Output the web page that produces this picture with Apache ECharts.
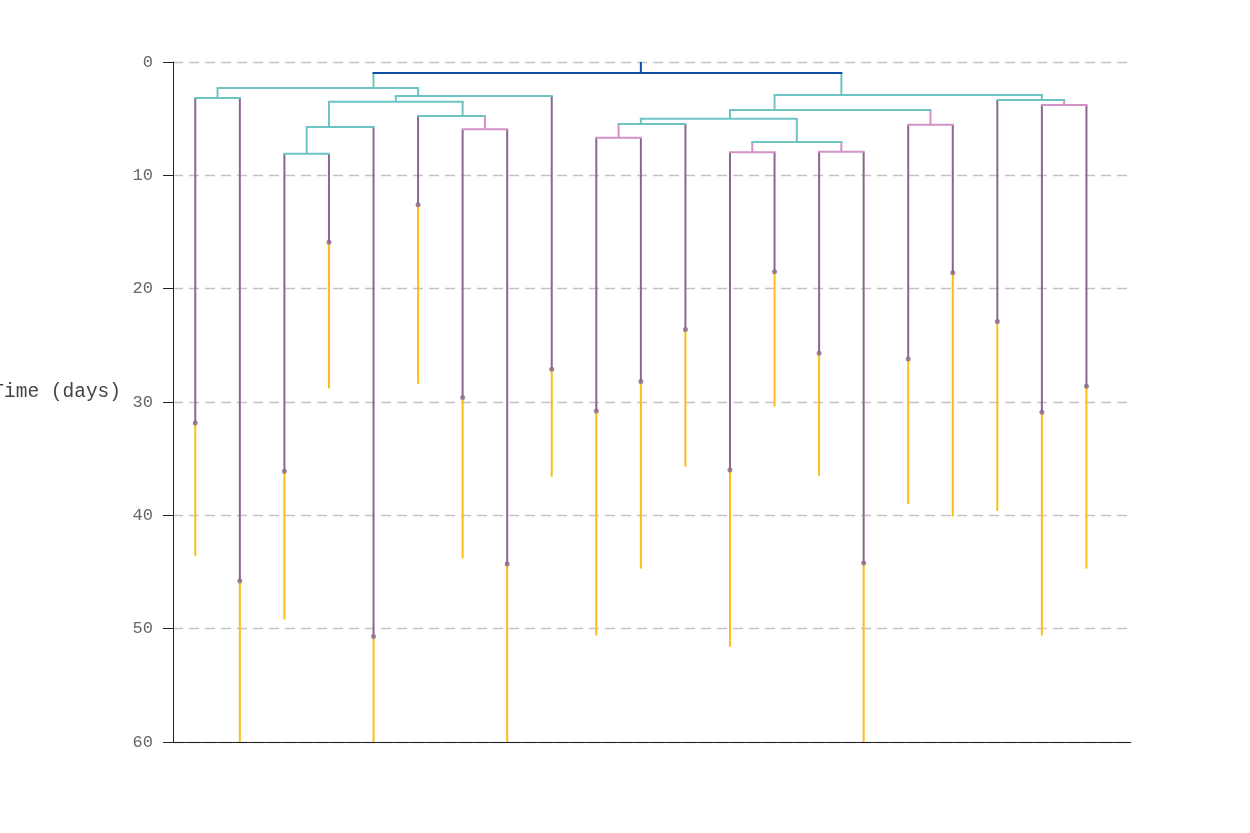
<!DOCTYPE html>
<html>
<head>
<meta charset="utf-8">
<script src="https://cdn.jsdelivr.net/npm/echarts@6/dist/echarts.min.js"></script>
<style>html,body{margin:0;padding:0;background:#fff;}#chart{width:1250px;height:833px;}</style>
</head>
<body>
<div id="chart"></div>
<script>
// Leaves (left to right): time of the marked event and end of the yellow segment (days)
const leafEvent = [31.85, 45.8, 36.1, 15.9, 50.7, 12.6, 29.6, 44.3, 27.1, 30.8, 28.2, 23.6, 36.0, 18.5, 25.7, 44.2, 26.2, 18.6, 22.9, 30.9, 28.6];
const leafEnd   = [43.6, 60, 49.2, 28.8, 60, 28.4, 43.8, 60, 36.6, 50.6, 44.7, 35.7, 51.6, 30.4, 36.5, 60, 39.0, 40.1, 39.6, 50.6, 44.7];

// Internal nodes of the tree
const nodeNames    = ['root','A','B','C','D','E','G','F','H','I','J','M','O','Q','P','R','S','N','K','T'];
const nodeTimes    = [0.97, 2.3, 3.18, 3.0, 3.5, 5.74, 8.1, 4.76, 5.94, 2.91, 4.24, 5.0, 5.47, 6.68, 7.06, 7.97, 7.92, 5.53, 3.35, 3.8];
const nodeChildren = [['A','I'],['B','C'],['L0','L1'],['D','L8'],['E','F'],['G','L4'],['L2','L3'],['L5','H'],['L6','L7'],
                      ['J','K'],['M','N'],['O','P'],['Q','L11'],['L9','L10'],['R','S'],['L12','L13'],['L14','L15'],['L16','L17'],['L18','T'],['L19','L20']];
const nodeKinds    = ['blue','teal','teal','teal','teal','teal','teal','teal','pink','teal','teal','teal','teal','pink','teal','pink','pink','pink','teal','pink'];

const yTicks = [0, 10, 20, 30, 40, 50, 60];

const palette = {blue:'#0c4fa4', teal:'#6ec4c2', pink:'#d292c8', purple:'#89688d', yellow:'#fcbe14'};
const kindIdx = ['blue','teal','pink','purple','yellow'];

const nodeIndex = {};
nodeNames.forEach((n, i) => nodeIndex[n] = i);

function leavesOf(name) {
  if (name[0] === 'L') return [parseInt(name.slice(1), 10)];
  return nodeChildren[nodeIndex[name]].reduce((acc, c) => acc.concat(leavesOf(c)), []);
}
function xOf(name) {
  const ls = leavesOf(name);
  return ls.reduce((s, v) => s + v + 0.5, 0) / ls.length;
}

const hSegs = [];
const vSegs = [];
const dots = [];
function walk(name, parentTime) {
  const x = xOf(name);
  if (name[0] === 'L') {
    const i = parseInt(name.slice(1), 10);
    vSegs.push([x, leafEvent[i], x, leafEnd[i], kindIdx.indexOf('yellow')]);
    vSegs.push([x, parentTime, x, leafEvent[i], kindIdx.indexOf('purple')]);
    dots.push([x, leafEvent[i]]);
    return;
  }
  const k = nodeIndex[name];
  const t = nodeTimes[k];
  const ci = kindIdx.indexOf(nodeKinds[k]);
  const cx = nodeChildren[k].map(xOf);
  vSegs.push([x, parentTime, x, t, ci]);
  hSegs.push([Math.min.apply(null, cx), t, Math.max.apply(null, cx), t, ci]);
  nodeChildren[k].forEach(c => walk(c, t));
}
walk('root', 0);

function segRender(cap) {
  return function (params, api) {
    const p1 = api.coord([api.value(0), api.value(1)]);
    const p2 = api.coord([api.value(2), api.value(3)]);
    return {
      type: 'line',
      shape: {x1: p1[0], y1: p1[1], x2: p2[0], y2: p2[1]},
      style: {stroke: palette[kindIdx[api.value(4)]], lineWidth: 2, lineCap: cap}
    };
  };
}

const chart = echarts.init(document.getElementById('chart'), null, {renderer: 'canvas'});
chart.setOption({
  animation: false,
  backgroundColor: '#fff',
  grid: {left: 173, right: 119, top: 62, bottom: 91, containLabel: false, outerBoundsMode: 'none'},
  xAxis: {
    type: 'value', min: 0, max: 21.5,
    axisLine: {show: true, onZero: false, lineStyle: {color: '#222', width: 1}},
    axisTick: {show: false}, axisLabel: {show: false}, splitLine: {show: false}
  },
  yAxis: {
    type: 'value', inverse: true, min: yTicks[0], max: yTicks[yTicks.length - 1], interval: 10,
    name: 'Time (days)', nameLocation: 'middle', nameGap: 52, nameRotate: 0,
    nameTextStyle: {fontFamily: 'Liberation Mono', fontSize: 19.5, color: '#444', align: 'right', verticalAlign: 'bottom'},
    axisLine: {show: true, lineStyle: {color: '#222', width: 1}},
    axisTick: {show: true, length: 10, lineStyle: {color: '#222'}},
    axisLabel: {margin: 20, fontFamily: 'Liberation Mono', fontSize: 17, color: '#666'},
    splitLine: {show: true, lineStyle: {color: '#c4c4c4', type: [10, 6], width: 1.3}}
  },
  series: [
    {type: 'custom', renderItem: segRender('butt'), data: vSegs, encode: {x: [0, 2], y: [1, 3]}, clip: true, z: 2},
    {type: 'custom', renderItem: segRender('square'), data: hSegs, encode: {x: [0, 2], y: [1, 3]}, clip: true, z: 3},
    {type: 'scatter', data: dots, symbol: 'circle', symbolSize: 5, itemStyle: {color: palette.purple}, z: 4}
  ]
});
</script>
</body>
</html>
